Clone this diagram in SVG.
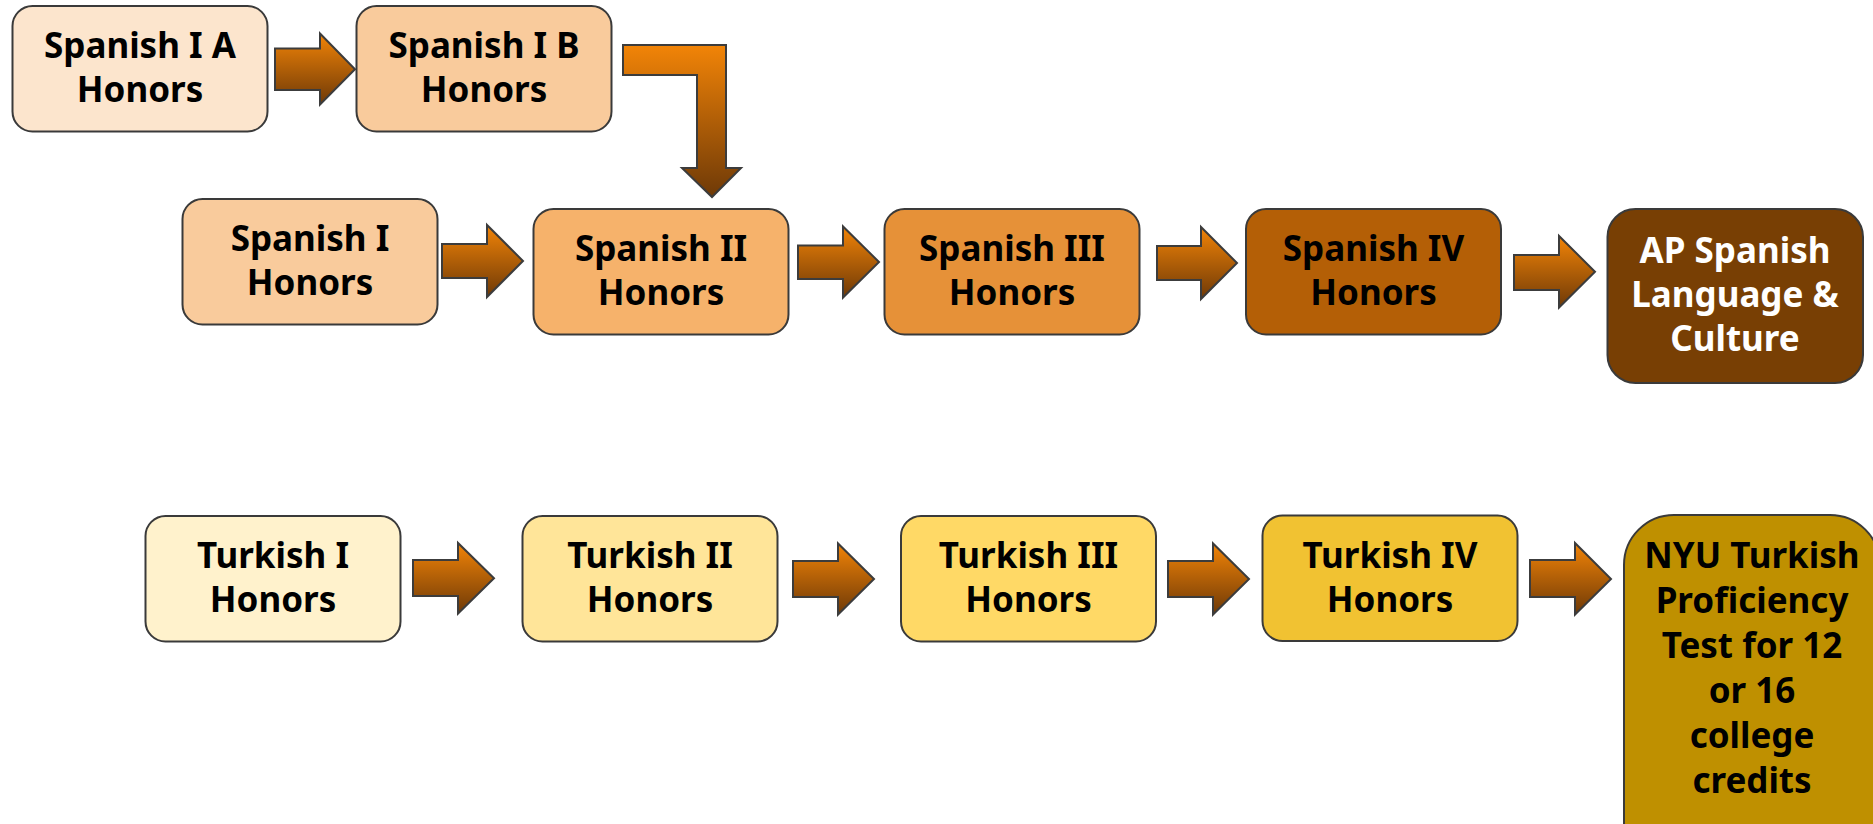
<svg xmlns="http://www.w3.org/2000/svg" width="1873" height="824" viewBox="0 0 1873 824">
<defs>
<linearGradient id="ag" x1="0" y1="0" x2="0" y2="1">
<stop offset="0" stop-color="#F28407"/>
<stop offset="1" stop-color="#6E3907"/>
</linearGradient>
<style>
.box{stroke:#3a3a3a;stroke-width:2}
.t{font-family:"Noto Sans",Lato,sans-serif;font-weight:bold;font-size:35px;text-anchor:middle;fill:#000}
.w{fill:#fff}
.arr{fill:url(#ag);stroke:#3c3c3c;stroke-width:2;stroke-linejoin:miter}
</style>
</defs>
<rect width="1873" height="824" fill="#fff"/>

<g id="connectors">
<polygon class="arr" points="275,48.5 320,48.5 320,33.5 355,69.3 320,104.5 320,90 275,90"/>
<polygon class="arr" points="623,45 726,45 726,168 741,168 712,197 682,168 697,168 697,75 623,75"/>
<polygon class="arr" points="442,244 487,244 487,225 523,261 487,297 487,278 442,278"/>
<polygon class="arr" points="798,245.5 843,245.5 843,226.5 879,262 843,297.5 843,279 798,279"/>
<polygon class="arr" points="1157,246 1201,246 1201,227 1237,263 1201,299 1201,280 1157,280"/>
<polygon class="arr" points="1514,255 1559,255 1559,236 1595,271.7 1559,307.5 1559,290 1514,290"/>
<polygon class="arr" points="413,560 458,560 458,543 494,578.3 458,613.5 458,596 413,596"/>
<polygon class="arr" points="793,561 838,561 838,543.5 874,579 838,614.5 838,597 793,597"/>
<polygon class="arr" points="1168,561 1213,561 1213,543.5 1249,579 1213,614.5 1213,597 1168,597"/>
<polygon class="arr" points="1530,560 1575,560 1575,543 1611,579 1575,614.5 1575,597 1530,597"/>
</g>

<g id="spanish-1a"><rect class="box" x="12.5" y="6" width="255" height="125.5" rx="20" fill="#FCE5CD"/>
<text class="t" x="140" y="58">Spanish I A</text><text class="t" x="140" y="102">Honors</text></g>
<g id="spanish-1b"><rect class="box" x="356.5" y="6" width="255" height="125.5" rx="20" fill="#F9CB9C"/>
<text class="t" x="484" y="58">Spanish I B</text><text class="t" x="484" y="102">Honors</text></g>
<g id="spanish-1"><rect class="box" x="182.5" y="199" width="255" height="125.5" rx="20" fill="#F9CB9C"/>
<text class="t" x="310" y="251">Spanish I</text><text class="t" x="310" y="295">Honors</text></g>
<g id="spanish-2"><rect class="box" x="533.5" y="209" width="255" height="125.5" rx="20" fill="#F6B26B"/>
<text class="t" x="661" y="261">Spanish II</text><text class="t" x="661" y="305">Honors</text></g>
<g id="spanish-3"><rect class="box" x="884.5" y="209" width="255" height="125.5" rx="20" fill="#E69138"/>
<text class="t" x="1012" y="261">Spanish III</text><text class="t" x="1012" y="305">Honors</text></g>
<g id="spanish-4"><rect class="box" x="1246" y="209" width="255" height="125.5" rx="20" fill="#B45F06"/>
<text class="t" x="1373.5" y="261">Spanish IV</text><text class="t" x="1373.5" y="305">Honors</text></g>
<g id="ap-spanish"><rect class="box" x="1607.5" y="209" width="255.5" height="174" rx="28" fill="#783F04"/>
<text class="t w" x="1735" y="262.5">AP Spanish</text><text class="t w" x="1735" y="306.5">Language &amp;</text><text class="t w" x="1735" y="350.5">Culture</text></g>

<g id="turkish-1"><rect class="box" x="145.5" y="516" width="255" height="125.5" rx="20" fill="#FFF2CC"/>
<text class="t" x="273" y="568">Turkish I</text><text class="t" x="273" y="612">Honors</text></g>
<g id="turkish-2"><rect class="box" x="522.5" y="516" width="255" height="125.5" rx="20" fill="#FFE599"/>
<text class="t" x="650" y="568">Turkish II</text><text class="t" x="650" y="612">Honors</text></g>
<g id="turkish-3"><rect class="box" x="901" y="516" width="255" height="125.5" rx="20" fill="#FFD966"/>
<text class="t" x="1028.5" y="568">Turkish III</text><text class="t" x="1028.5" y="612">Honors</text></g>
<g id="turkish-4"><rect class="box" x="1262.5" y="515.5" width="255" height="125.5" rx="20" fill="#F1C232"/>
<text class="t" x="1390" y="567.5">Turkish IV</text><text class="t" x="1390" y="611.5">Honors</text></g>
<g id="nyu-test"><rect class="box" x="1624" y="515" width="256" height="370" rx="50" fill="#BF9000"/>
<text class="t" x="1752" y="568">NYU Turkish</text><text class="t" x="1752" y="613">Proficiency</text><text class="t" x="1752" y="658">Test for 12</text><text class="t" x="1752" y="703">or 16</text><text class="t" x="1752" y="748">college</text><text class="t" x="1752" y="793">credits</text></g>
</svg>
